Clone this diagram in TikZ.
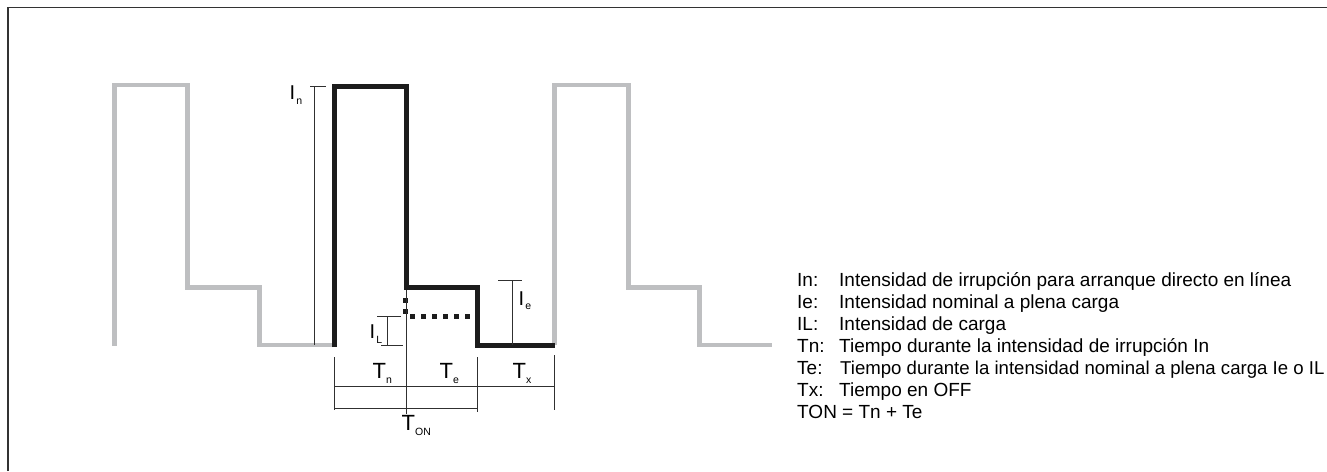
\documentclass[tikz,border=0pt]{standalone}
\usepackage{fontspec}
\setmainfont{Liberation Sans}
\definecolor{wavegray}{HTML}{BEBFC1}
\definecolor{waveblack}{HTML}{1C1C1C}
\definecolor{thinline}{HTML}{303030}
\newcommand{\lblI}[1]{{\fontsize{20}{20}\selectfont I}\kern1.2pt\raisebox{-4.5pt}{\fontsize{10.5}{10.5}\selectfont #1}}
\newcommand{\lblT}[1]{{\fontsize{22}{22}\selectfont T}\raisebox{-5pt}{\fontsize{10.5}{10.5}\selectfont #1}}
\begin{document}
\begin{tikzpicture}[x=1pt,y=-1pt,
  grayw/.style={draw=wavegray, line width=4.6pt, line join=miter},
  blackw/.style={draw=waveblack, line width=5pt, line join=miter},
  dotw/.style={draw=waveblack, line width=5pt, dash pattern=on 5pt off 6pt},
  thinl/.style={draw=thinline, line width=0.9pt},
  framel/.style={draw=black!80, line width=1.8pt},
  sym/.style={anchor=base west, inner sep=0pt},
  leg/.style={anchor=base west, inner sep=0pt, font=\fontsize{19}{19}\selectfont}]
\useasboundingbox (0,0) rectangle (1327,471);
% frame
\draw[framel] (7.7,471) -- (7.7,7.5) -- (1327,7.5);
% grey waveforms
\draw[grayw] (114.5,345.5) -- (114.5,85) -- (187.5,85) -- (187.5,287.5) -- (259.5,287.5) -- (259.5,345) -- (334,345);
\draw[grayw] (554.5,345) -- (554.5,85) -- (628.5,85) -- (628.5,287.5) -- (699.5,287.5) -- (699.5,345) -- (772,345);
% black waveform
\draw[blackw] (334,347) -- (334,86) -- (406,86) -- (406,287.5) -- (477,287.5) -- (477,345) -- (554.5,345);
% dotted load level
\draw[dotw] (405.5,298) -- (405.5,315);
\draw[dotw] (410,316) -- (470,316);
% current dimensions
\draw[thinl] (310,86) -- (326,86);
\draw[thinl] (314.5,86) -- (314.5,345);
\draw[thinl] (377,316) -- (401,316);
\draw[thinl] (381,345) -- (403,345);
\draw[thinl] (387,316) -- (387,345);
\draw[thinl] (498,280) -- (522,280);
\draw[thinl] (512,280) -- (512,345);
% time dimensions
\draw[thinl] (334,357) -- (334,410);
\draw[thinl] (477,357) -- (477,412);
\draw[thinl] (554,355) -- (554,410);
\draw[thinl] (334,386) -- (554,386);
\draw[thinl] (334,408) -- (477,408);
\draw[thinl] (406.5,290) -- (406.5,414);
% symbol labels
\node[sym] (lIn) at (289.5,99.5) {\lblI{n}};
\node[sym] (lIL) at (369.5,338.5) {\lblI{L}};
\node[sym] (lIe) at (518.5,305) {\lblI{e}};
\node[sym] (lTn) at (372.5,378) {\lblT{n}};
\node[sym] (lTe) at (439.5,378) {\lblT{e}};
\node[sym] (lTx) at (512.5,378) {\lblT{x}};
\node[sym] (lTon) at (401.5,430) {\lblT{ON}};
% legend
\node[leg] (k1) at (797,286) {In:};
\node[leg] (v1) at (839,286) {Intensidad de irrupción para arranque directo en línea};
\node[leg] (k2) at (797,308) {Ie:};
\node[leg] (v2) at (839,308) {Intensidad nominal a plena carga};
\node[leg] (k3) at (797,330) {IL:};
\node[leg] (v3) at (839,330) {Intensidad de carga};
\node[leg] (k4) at (797,352) {Tn:};
\node[leg] (v4) at (839,352) {Tiempo durante la intensidad de irrupción In};
\node[leg] (k5) at (797,374) {Te:};
\node[leg, font=\fontsize{18.6}{18.6}\selectfont] (v5) at (840,374) {Tiempo durante la intensidad nominal a plena carga Ie o IL};
\node[leg] (k6) at (797,396) {Tx:};
\node[leg] (v6) at (839,396) {Tiempo en OFF};
\node[leg] (k7) at (797,418) {TON = Tn + Te};
\end{tikzpicture}
\end{document}
